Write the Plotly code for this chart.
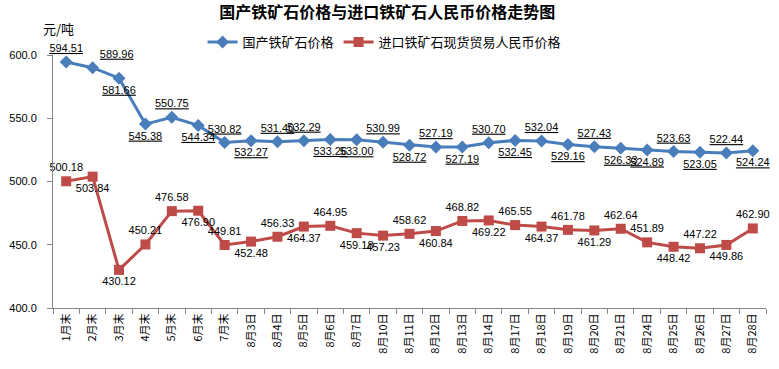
import plotly.graph_objects as go

categories = ["1月末", "2月末", "3月末", "4月末", "5月末", "6月末", "7月末",
              "8月3日", "8月4日", "8月5日", "8月6日", "8月7日", "8月10日", "8月11日",
              "8月12日", "8月13日", "8月14日", "8月17日", "8月18日", "8月19日", "8月20日",
              "8月21日", "8月24日", "8月25日", "8月26日", "8月27日", "8月28日"]

domestic = [594.51, 589.96, 581.66, 545.38, 550.75, 544.34, 530.82,
            532.27, 531.40, 532.29, 533.26, 533.00, 530.99, 528.72,
            527.19, 527.19, 530.70, 532.45, 532.04, 529.16, 527.43,
            526.33, 524.89, 523.63, 523.05, 522.44, 524.24]

imported = [500.18, 503.84, 430.12, 450.21, 476.58, 476.90, 449.81,
            452.48, 456.33, 464.37, 464.95, 459.18, 457.23, 458.62,
            460.84, 468.82, 469.22, 465.55, 464.37, 461.78, 461.29,
            462.64, 451.89, 448.42, 447.22, 449.86, 462.90]

series_names = ["国产铁矿石价格", "进口铁矿石现货贸易人民币价格"]
title_text = "国产铁矿石价格与进口铁矿石人民币价格走势图"
unit_text = "元/吨"

T, B = "top center", "bottom center"
dom_pos = [T, "top right", B, B, T, B, T,
           B, T, T, B, B, T, B,
           T, B, T, B, T, B, T,
           B, B, T, B, T, B]
imp_pos = [T, B, B, T, T, B, T,
           B, T, B, T, B, B, T,
           B, T, B, T, B, T, B,
           T, T, B, T, B, T]

BLUE = "#4A7EBB"
RED = "#BE4B48"
LABEL_FONT = "Liberation Sans, Arial, sans-serif"
CJK = "Noto Sans CJK SC, sans-serif"

fig = go.Figure()
fig.add_trace(go.Scatter(
    x=categories, y=domestic, name=series_names[0],
    mode="lines+markers+text",
    line=dict(color=BLUE, width=3),
    marker=dict(symbol="diamond", size=10, color=BLUE),
    text=[f"{v:.2f}" for v in domestic],
    textposition=dom_pos,
    textfont=dict(family=LABEL_FONT, size=11, color="#000000", lineposition="under"),
    cliponaxis=False,
))
fig.add_trace(go.Scatter(
    x=categories, y=imported, name=series_names[1],
    mode="lines+markers+text",
    line=dict(color=RED, width=3),
    marker=dict(symbol="square", size=10, color=RED),
    text=[f"{v:.2f}" for v in imported],
    textposition=imp_pos,
    textfont=dict(family=LABEL_FONT, size=11, color="#000000"),
    cliponaxis=False,
))

fig.update_layout(
    width=779, height=369,
    margin=dict(l=53, r=13, t=55, b=61),
    paper_bgcolor="white", plot_bgcolor="white",
    title=dict(text="<b>" + title_text + "</b>", x=0.497, xanchor="center",
               y=0.967, yanchor="middle",
               font=dict(family=CJK, size=16, color="#000000")),
    showlegend=True,
    legend=dict(orientation="h", x=0.465, xanchor="center", y=1.051, yanchor="middle",
                font=dict(family=CJK, size=13, color="#000000"),
                bgcolor="rgba(0,0,0,0)", itemwidth=30, tracegroupgap=0),
    xaxis=dict(type="category", range=[-0.5, 26.5], showgrid=False, automargin=False,
               showline=True, linecolor="#868686", linewidth=1,
               ticks="outside", tickson="boundaries", ticklen=5, tickcolor="#868686",
               tickangle=-90, tickfont=dict(family=CJK, size=11, color="#000000")),
    yaxis=dict(range=[400, 600], dtick=50, tickformat=".1f", showgrid=False, automargin=False,
               showline=True, linecolor="#868686", linewidth=1,
               ticks="outside", ticklen=5, tickcolor="#868686", ticklabelstandoff=8,
               tickfont=dict(family=LABEL_FONT, size=11, color="#000000")),
    annotations=[dict(text=unit_text, xref="paper", yref="paper", x=0.008, y=1.103,
                      xanchor="center", yanchor="middle", showarrow=False,
                      font=dict(family=CJK, size=13, color="#000000"))],
)

fig.write_html("out.html", config={"displayModeBar": False},
               post_script="document.body.style.margin='0';")
